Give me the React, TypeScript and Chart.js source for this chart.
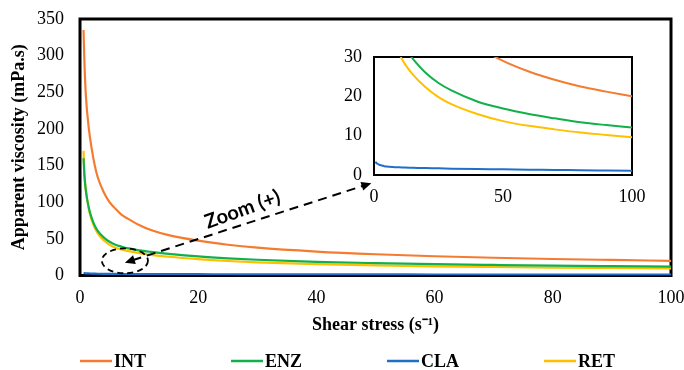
import React, { useEffect, useRef } from "react";
import { Chart, registerables } from "chart.js";

Chart.register(...registerables);

// Shear stress (s^-1) sample points
const shear = [0.6, 0.75, 1, 1.5, 2, 2.5, 3, 4, 5, 6, 7, 8, 10, 12, 15, 20, 25, 30, 40, 50, 60, 70, 80, 90, 100];
// Apparent viscosity (mPa.s)
const intValues = [335, 290, 245, 200, 172, 150, 134, 114, 100, 91, 83, 78, 69, 62, 55, 47.5, 42, 38, 32.7, 29, 26.3, 24.2, 22.5, 21.2, 20];
const enzValues = [160, 136, 115, 92, 78, 68, 61, 52, 46, 42, 39.5, 37.3, 34.3, 32.2, 29.6, 26, 23.4, 21.5, 18.7, 16.9, 15.5, 14.4, 13.4, 12.7, 12.1];
const claValues = [3.4, 3.2, 3.0, 2.8, 2.6, 2.5, 2.4, 2.25, 2.15, 2.1, 2.05, 2.0, 1.95, 1.9, 1.85, 1.75, 1.7, 1.6, 1.5, 1.45, 1.35, 1.3, 1.2, 1.15, 1.1];
const retValues = [170, 139, 116, 90, 75, 65, 57.5, 48, 42, 38, 35.5, 33.5, 30.5, 28.2, 25.6, 22.3, 19.8, 18, 15.5, 13.7, 12.5, 11.6, 10.8, 10.2, 9.6];

const seriesNames = ["INT", "ENZ", "CLA", "RET"];
const seriesColors = ["#F47C30", "#12B04B", "#1F6FC9", "#FFC000"];
const seriesValues = [intValues, enzValues, claValues, retValues];

const SERIF = "'Times New Roman', 'Liberation Serif', serif";

function makeDatasets(width: number) {
  return seriesValues.map((vals, i) => ({
    label: seriesNames[i],
    data: shear.map((x, j) => ({ x, y: vals[j] })),
    borderColor: seriesColors[i],
    backgroundColor: seriesColors[i],
    borderWidth: width,
    pointRadius: 0,
    cubicInterpolationMode: "monotone" as const,
    fill: false,
  }));
}

const framePlugin = (lw: number) => ({
  id: "frame",
  beforeDatasetsDraw(chart: any) {
    const { ctx, chartArea: a } = chart;
    ctx.save();
    ctx.strokeStyle = "#000";
    ctx.lineWidth = lw;
    ctx.strokeRect(a.left, a.top, a.right - a.left, a.bottom - a.top);
    ctx.restore();
  },
});

const legendPlugin = {
  id: "customLegend",
  afterDraw(chart: any) {
    const ctx = chart.ctx;
    ctx.save();
    ctx.font = `bold 18px ${SERIF}`;
    ctx.textBaseline = "middle";
    let x = 80;
    const y = 361;
    chart.data.datasets.forEach((ds: any) => {
      ctx.strokeStyle = ds.borderColor;
      ctx.lineWidth = 2.5;
      ctx.beginPath();
      ctx.moveTo(x, y);
      ctx.lineTo(x + 32, y);
      ctx.stroke();
      ctx.fillStyle = "#000";
      ctx.fillText(ds.label, x + 34, y + 1);
      x += 34 + ctx.measureText(ds.label).width + 85;
    });
    ctx.restore();
  },
};

function arrowHead(ctx: any, x: number, y: number, ang: number) {
  const L = 10, W = 4.5;
  ctx.beginPath();
  ctx.moveTo(x, y);
  ctx.lineTo(x - L * Math.cos(ang) + W * Math.sin(ang), y - L * Math.sin(ang) - W * Math.cos(ang));
  ctx.lineTo(x - L * Math.cos(ang) - W * Math.sin(ang), y - L * Math.sin(ang) + W * Math.cos(ang));
  ctx.closePath();
  ctx.fill();
}

const zoomPlugin = {
  id: "zoomMark",
  afterDatasetsDraw(chart: any) {
    const { ctx } = chart;
    const xs = chart.scales.x, ys = chart.scales.y;
    const px = (v: number) => xs.getPixelForValue(v);
    const py = (v: number) => ys.getPixelForValue(v);
    ctx.save();
    ctx.strokeStyle = "#000";
    ctx.fillStyle = "#000";
    // ellipse
    const cx = px(7.6), cy = py(20);
    const rx = px(7.6 + 3.9) - cx, ry = cy - py(20 + 17);
    ctx.lineWidth = 1.8;
    ctx.setLineDash([6, 4]);
    ctx.beginPath();
    ctx.ellipse(cx, cy, rx, ry, 0, 0, Math.PI * 2);
    ctx.stroke();
    // arrow
    const x1 = px(7.6), y1 = py(17.5), x2 = px(49.3), y2 = py(126);
    const ang = Math.atan2(y2 - y1, x2 - x1);
    ctx.lineWidth = 2;
    ctx.setLineDash([9, 6]);
    ctx.beginPath();
    ctx.moveTo(x1 + 8 * Math.cos(ang), y1 + 8 * Math.sin(ang));
    ctx.lineTo(x2 - 8 * Math.cos(ang), y2 - 8 * Math.sin(ang));
    ctx.stroke();
    ctx.setLineDash([]);
    arrowHead(ctx, x2, y2, ang);
    arrowHead(ctx, x1, y1, ang + Math.PI);
    // label
    ctx.translate(px(27.5), py(90));
    ctx.rotate(-20 * Math.PI / 180);
    ctx.font = "bold 20px Lato, 'Open Sans', sans-serif";
    ctx.textAlign = "center";
    ctx.textBaseline = "middle";
    ctx.fillText("Zoom (+)", 0, 0);
    ctx.restore();
  },
};

const noPadX = (h: number) => (s: any) => { s.height = h; s.paddingLeft = 0; s.paddingRight = 0; };
const noPadY = (w: number) => (s: any) => { s.width = w; s.paddingTop = 0; s.paddingBottom = 0; };

export default function App() {
  const mainRef = useRef<HTMLCanvasElement>(null);
  const insetRef = useRef<HTMLCanvasElement>(null);

  useEffect(() => {
    const main = new Chart(mainRef.current as HTMLCanvasElement, {
      type: "line",
      data: { datasets: makeDatasets(2.2) as any },
      options: {
        responsive: false,
        animation: false,
        layout: { padding: { top: 19, right: 13, left: 0, bottom: 0 } },
        plugins: { legend: { display: false }, tooltip: { enabled: false } },
        scales: {
          x: {
            type: "linear",
            min: 0,
            max: 100,
            ticks: { stepSize: 20, padding: 11.5, color: "#000", font: { family: SERIF, size: 18 }, maxRotation: 0 },
            grid: { display: false, drawTicks: false },
            border: { display: false },
            title: {
              display: true,
              text: "Shear stress (s\u207B\u00B9)",
              color: "#000",
              font: { family: SERIF, size: 18, weight: "bold" },
              padding: { top: 0, bottom: 34 },
            },
            afterFit: noPadX(94.5),
          },
          y: {
            min: 0,
            max: 350,
            ticks: { stepSize: 50, padding: 16, color: "#000", font: { family: SERIF, size: 18 } },
            grid: { display: false, drawTicks: false },
            border: { display: false },
            title: {
              display: true,
              text: "Apparent viscosity (mPa.s)",
              color: "#000",
              font: { family: SERIF, size: 18, weight: "bold" },
              padding: { top: 9, bottom: 0 },
            },
            afterFit: noPadY(80),
          },
        },
      },
      plugins: [framePlugin(3), zoomPlugin, legendPlugin],
    });

    const inset = new Chart(insetRef.current as HTMLCanvasElement, {
      type: "line",
      data: { datasets: makeDatasets(2) as any },
      options: {
        responsive: false,
        animation: false,
        layout: { padding: { top: 17, right: 18, left: 0, bottom: 0 } },
        plugins: { legend: { display: false }, tooltip: { enabled: false } },
        scales: {
          x: {
            type: "linear",
            min: 0,
            max: 100,
            ticks: { stepSize: 50, padding: 11, color: "#000", font: { family: SERIF, size: 18 }, maxRotation: 0 },
            grid: { display: false, drawTicks: false },
            border: { display: false },
            afterFit: noPadX(40),
          },
          y: {
            min: 0,
            max: 30,
            ticks: { stepSize: 10, padding: 12, color: "#000", font: { family: SERIF, size: 18 } },
            grid: { display: false, drawTicks: false },
            border: { display: false },
            afterFit: noPadY(54),
          },
        },
      },
      plugins: [framePlugin(2)],
    });

    return () => {
      main.destroy();
      inset.destroy();
    };
  }, []);

  return (
    <div style={{ position: "absolute", left: 0, top: 0, width: 684, height: 370, background: "#fff" }}>
      <canvas ref={mainRef} width={684} height={370} style={{ position: "absolute", left: 0, top: 0 }} />
      <canvas ref={insetRef} width={330} height={175} style={{ position: "absolute", left: 320, top: 40 }} />
    </div>
  );
}
